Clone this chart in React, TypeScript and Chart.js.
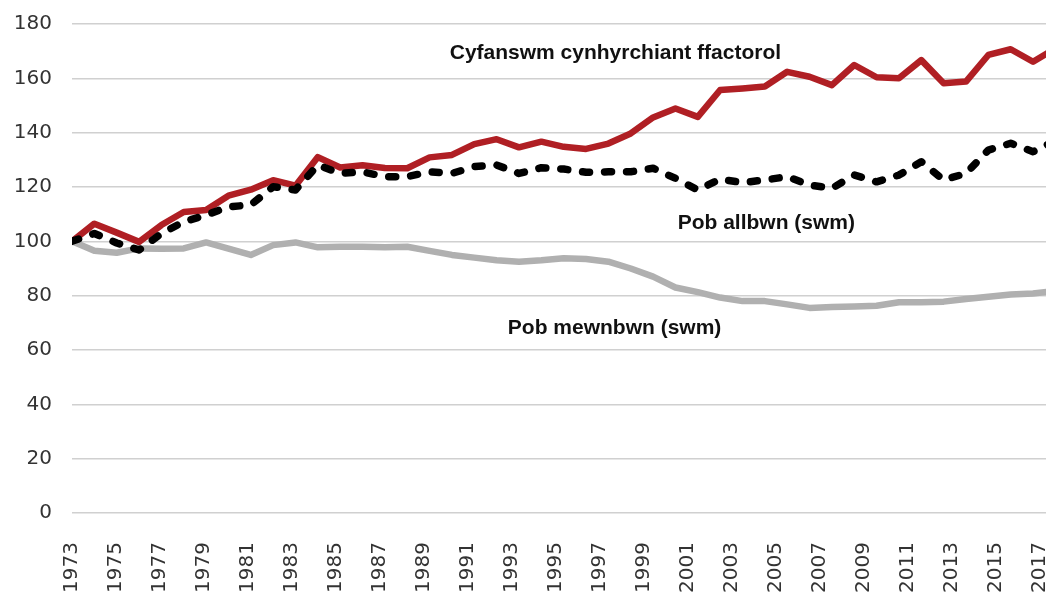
import React, { useEffect, useRef } from "react";
import { Chart, registerables } from "chart.js";

Chart.register(...registerables);

// ---- Data ----
const years = [
  1973, 1974, 1975, 1976, 1977, 1978, 1979, 1980, 1981, 1982, 1983, 1984, 1985, 1986, 1987,
  1988, 1989, 1990, 1991, 1992, 1993, 1994, 1995, 1996, 1997, 1998, 1999, 2000, 2001, 2002,
  2003, 2004, 2005, 2006, 2007, 2008, 2009, 2010, 2011, 2012, 2013, 2014, 2015, 2016, 2017,
];

const tickYears = [
  1973, 1975, 1977, 1979, 1981, 1983, 1985, 1987, 1989, 1991, 1993, 1995, 1997, 1999, 2001,
  2003, 2005, 2007, 2009, 2011, 2013, 2015, 2017,
];

const yTicks = [0, 20, 40, 60, 80, 100, 120, 140, 160, 180];

const seriesNames = ["Cyfanswm cynhyrchiant ffactorol", "Pob allbwn (swm)", "Pob mewnbwn (swm)"];

// Cyfanswm cynhyrchiant ffactorol
const totalFactorProductivity = [
  100, 106.5, 103.2, 99.8, 106, 110.8, 111.5, 116.8, 119, 122.5, 120.5, 131, 127.2, 128, 127,
  126.9, 130.9, 131.8, 135.8, 137.6, 134.6, 136.7, 134.8, 134, 136, 139.7, 145.6, 148.9, 145.8, 155.7,
  156.3, 157, 162.4, 160.6, 157.5, 164.9, 160.4, 160, 166.7, 158.2, 158.8, 168.6, 170.7, 166.1, 171,
];

// Pob allbwn (swm)
const allOutputs = [
  100, 102.9, 99.4, 96.8, 102.9, 107.2, 109.7, 112.7, 113.4, 120.1, 118.9, 128.1, 125, 125.6, 123.8,
  123.8, 125.6, 125, 127.5, 128.1, 125, 127.1, 126.6, 125.4, 125.6, 125.6, 126.9, 123.2, 118.9, 122.9,
  121.6, 122.6, 123.8, 120.7, 119.5, 124.4, 121.9, 124.4, 129.3, 122.6, 125, 133.6, 136.1, 133, 137,
];

// Pob mewnbwn (swm)
const allInputs = [
  100, 96.5, 95.8, 97.4, 97.3, 97.4, 99.6, 97.3, 95, 98.6, 99.6, 97.8, 98, 98, 97.8,
  98, 96.5, 95, 94, 93, 92.5, 93, 93.8, 93.5, 92.5, 90, 87, 83, 81.3, 79.3,
  78, 78, 76.8, 75.5, 75.8, 76, 76.3, 77.6, 77.6, 77.8, 78.8, 79.6, 80.4, 80.8, 81.8,
];

// Series labels drawn on the plot, anchored in data coordinates (year, value)
const seriesLabels = [
  { text: seriesNames[0], year: 1989.9, value: 167.0 },
  { text: seriesNames[1], year: 2000.1, value: 104.4 },
  { text: seriesNames[2], year: 1992.5, value: 65.8 },
];

const TICK_FONT = { family: "'DejaVu Sans', sans-serif", size: 20 };

const seriesLabelPlugin = {
  id: "seriesLabelPlugin",
  afterDatasetsDraw(chart: any) {
    const { ctx, scales } = chart;
    const xs = scales.x;
    const ys = scales.y;
    ctx.save();
    ctx.font = "bold 21px 'Liberation Sans', Arial, sans-serif";
    ctx.fillStyle = "#111111";
    ctx.textAlign = "left";
    ctx.textBaseline = "alphabetic";
    for (const l of seriesLabels) {
      ctx.fillText(l.text, xs.getPixelForValue(l.year), ys.getPixelForValue(l.value));
    }
    ctx.restore();
  },
};

const toPoints = (vals: number[]) => years.map((yr, i) => ({ x: yr, y: vals[i] }));

export default function App() {
  const ref = useRef<HTMLCanvasElement>(null);

  useEffect(() => {
    document.body.style.margin = "0";
    const canvas = ref.current;
    if (!canvas) return;
    const chart = new Chart(canvas, {
      type: "line",
      data: {
        datasets: [
          {
            label: seriesNames[1],
            data: toPoints(allOutputs),
            borderColor: "#000000",
            borderWidth: 7.5,
            borderDash: [7, 15],
            borderCapStyle: "round",
            borderJoinStyle: "round",
            pointRadius: 0,
            tension: 0,
            order: 0,
          },
          {
            label: seriesNames[0],
            data: toPoints(totalFactorProductivity),
            borderColor: "#b01f24",
            borderWidth: 6.5,
            borderJoinStyle: "round",
            pointRadius: 0,
            tension: 0,
            order: 1,
          },
          {
            label: seriesNames[2],
            data: toPoints(allInputs),
            borderColor: "#b0b0b0",
            borderWidth: 6.5,
            borderJoinStyle: "round",
            pointRadius: 0,
            tension: 0,
            order: 2,
          },
        ],
      },
      options: {
        responsive: false,
        animation: false,
        layout: { padding: { top: 24, right: 0, bottom: 0, left: 0 } },
        plugins: {
          legend: { display: false },
          tooltip: { enabled: false },
        },
        scales: {
          x: {
            type: "linear",
            display: false,
            min: 1973,
            max: 2016.58,
          },
          xLabels: {
            type: "linear",
            position: "bottom",
            axis: "x",
            min: 1973,
            max: 2017.27,
            grid: { display: false, drawTicks: false },
            border: { display: false },
            afterBuildTicks: (s: any) => {
              s.ticks = tickYears.map((v) => ({ value: v }));
            },
            afterFit: (s: any) => {
              s.height = 85;
              s.paddingLeft = 0;
              s.paddingRight = 0;
            },
            ticks: {
              autoSkip: false,
              maxRotation: 90,
              minRotation: 90,
              padding: 29,
              font: TICK_FONT,
              color: "#333333",
              callback: (v: any) => String(v),
            },
          },
          y: {
            type: "linear",
            min: 0,
            max: 180,
            afterBuildTicks: (s: any) => {
              s.ticks = yTicks.map((v) => ({ value: v }));
            },
            afterFit: (s: any) => {
              s.width = 72;
              s.paddingTop = 0;
              s.paddingBottom = 0;
            },
            grid: { color: "#d0d0d0", lineWidth: 1.5, drawTicks: false },
            border: { display: false },
            ticks: {
              padding: 20,
              font: TICK_FONT,
              color: "#333333",
              callback: (v: any) => String(v),
            },
          },
        },
      },
      plugins: [seriesLabelPlugin],
    } as any);
    return () => chart.destroy();
  }, []);

  return <canvas ref={ref} width={1046} height={598} style={{ display: "block" }} />;
}
